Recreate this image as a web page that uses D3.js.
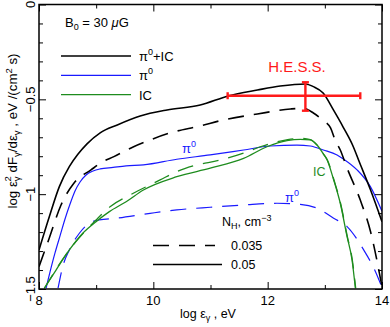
<!DOCTYPE html>
<html>
<head>
<meta charset="utf-8">
<script src="https://cdn.jsdelivr.net/npm/d3@7"></script>
<style>
  html, body { margin: 0; padding: 0; background: #fff; }
  svg { display: block; font-family: "Liberation Sans", Arial, sans-serif; }
</style>
</head>
<body>
<svg id="chart" width="390" height="327"></svg>
<script>
// log eps (eV) vs log eps^2 dF/deps
const sumSolid = [[8.0,-1.294],[8.18,-1.119],[8.356,-0.96],[8.53,-0.855],[8.68,-0.79],[8.84,-0.735],[9.07,-0.677],[9.37,-0.635],[9.77,-0.588],[10.24,-0.556],[10.82,-0.53],[11.31,-0.482],[11.82,-0.451],[12.22,-0.43],[12.66,-0.419],[12.8,-0.433],[12.97,-0.467],[13.15,-0.556],[13.32,-0.646],[13.5,-0.751],[13.59,-0.82],[13.8,-0.978],[14.0,-1.145]];
const sumDashed = [[8.0,-1.382],[8.18,-1.231],[8.385,-1.057],[8.613,-0.941],[8.91,-0.872],[9.115,-0.829],[9.31,-0.802],[9.646,-0.751],[9.944,-0.714],[10.294,-0.677],[10.82,-0.64],[11.22,-0.609],[11.82,-0.577],[12.4,-0.551],[12.62,-0.547],[12.8,-0.572],[12.96,-0.609],[13.1,-0.651],[13.18,-0.715],[13.27,-0.767],[13.39,-0.863],[13.62,-1.031],[13.8,-1.198],[14.0,-1.488]];
const piSolid = [[8.123,-1.496],[8.193,-1.41],[8.28,-1.31],[8.368,-1.22],[8.455,-1.131],[8.543,-1.052],[8.63,-0.983],[8.718,-0.936],[8.823,-0.899],[8.946,-0.878],[9.07,-0.867],[9.296,-0.859],[9.524,-0.851],[9.827,-0.846],[10.41,-0.816],[10.995,-0.793],[11.578,-0.767],[12.046,-0.746],[12.513,-0.741],[12.746,-0.746],[12.974,-0.767],[13.214,-0.793],[13.324,-0.814],[13.564,-0.872],[13.797,-0.96],[14.0,-1.09]];
const piDashed = [[8.333,-1.496],[8.415,-1.382],[8.531,-1.294],[8.706,-1.206],[8.881,-1.153],[9.056,-1.136],[9.349,-1.127],[9.944,-1.101],[10.41,-1.083],[10.995,-1.069],[11.578,-1.057],[12.163,-1.048],[12.571,-1.054],[12.863,-1.074],[13.154,-1.127],[13.389,-1.171],[13.68,-1.294],[13.855,-1.389],[14.0,-1.492]];
const icSolid = [[8.093,-1.496],[8.298,-1.4],[8.531,-1.294],[8.765,-1.206],[8.998,-1.145],[9.231,-1.092],[9.524,-1.04],[9.827,-0.978],[10.41,-0.908],[10.995,-0.863],[11.578,-0.811],[11.988,-0.75],[12.338,-0.718],[12.571,-0.711],[12.746,-0.714],[12.863,-0.741],[12.974,-0.788],[13.04,-0.82],[13.155,-0.925],[13.27,-1.048],[13.389,-1.224],[13.476,-1.347],[13.534,-1.496]];
const icDashed = [[8.093,-1.496],[8.531,-1.294],[8.998,-1.136],[9.243,-1.066],[9.594,-1.004],[10.119,-0.925],[10.41,-0.881],[10.7,-0.851],[11.17,-0.82],[11.578,-0.784],[11.87,-0.75],[12.22,-0.72],[12.571,-0.706],[12.746,-0.712],[12.863,-0.741],[12.974,-0.788],[13.045,-0.82],[13.16,-0.925],[13.275,-1.048],[13.394,-1.224],[13.481,-1.347],[13.54,-1.496]];

// H.E.S.S. point: centre, x range, y range
const hessX = [11.3, 12.66, 13.62];
const hessY = [-0.56, -0.481, -0.41];

const xMajor = [8, 10, 12, 14];
const xMinor = [9, 11, 13];
const yMajor = [-1.5, -1, -0.5, 0];
const yLabels = ['\u22121.5', '\u22121', '\u22120.5', '0'];
const densities = ['0.035', '0.05'];

const W = 390, H = 327;
const margin = { left: 39, right: 8, top: 4.5, bottom: 38 };

const svg = d3.select('#chart');
const x = d3.scaleLinear().domain([8, 14]).range([margin.left, W - margin.right]);
const y = d3.scaleLinear().domain([-1.5, 0]).range([H - margin.bottom, margin.top]);

const BLACK = '#000', BLUE = '#1a1aff', GREEN = '#1e8c1e', RED = '#ff1a1a';
const DASH = '16,10';

svg.append('clipPath').attr('id', 'clip')
  .append('rect')
  .attr('x', x(8)).attr('y', y(0))
  .attr('width', x(14) - x(8)).attr('height', y(-1.5) - y(0));

const line = d3.line().x(d => x(d[0])).y(d => y(d[1])).curve(d3.curveMonotoneX);

const curves = [
  { data: piDashed, color: BLUE, w: 1.2, dash: DASH },
  { data: piSolid, color: BLUE, w: 1.2, dash: null },
  { data: icDashed, color: GREEN, w: 1.3, dash: DASH },
  { data: icSolid, color: GREEN, w: 1.3, dash: null },
  { data: sumDashed, color: BLACK, w: 1.6, dash: DASH },
  { data: sumSolid, color: BLACK, w: 1.6, dash: null },
];

const plot = svg.append('g').attr('clip-path', 'url(#clip)');
plot.selectAll('path.curve')
  .data(curves)
  .join('path')
  .attr('class', 'curve')
  .attr('d', d => line(d.data))
  .attr('fill', 'none')
  .attr('stroke', d => d.color)
  .attr('stroke-width', d => d.w)
  .attr('stroke-dasharray', d => d.dash);

// axes with inward ticks
function styleAxis(g) {
  g.select('.domain').remove();
  g.selectAll('line').attr('stroke', '#000').attr('stroke-width', 1);
  g.selectAll('text').remove();
}
svg.append('g').attr('transform', `translate(0,${y(-1.5)})`)
  .call(d3.axisBottom(x).tickValues(xMajor).tickSizeInner(-7).tickSizeOuter(0)).call(styleAxis);
svg.append('g').attr('transform', `translate(0,${y(-1.5)})`)
  .call(d3.axisBottom(x).tickValues(xMinor).tickSizeInner(-4).tickSizeOuter(0)).call(styleAxis);
svg.append('g').attr('transform', `translate(0,${y(0)})`)
  .call(d3.axisTop(x).tickValues(xMajor).tickSizeInner(-7).tickSizeOuter(0)).call(styleAxis);
svg.append('g').attr('transform', `translate(0,${y(0)})`)
  .call(d3.axisTop(x).tickValues(xMinor).tickSizeInner(-4).tickSizeOuter(0)).call(styleAxis);

const yMinor = d3.range(-15, 1).map(v => v / 10).filter(v => !yMajor.includes(v));
svg.append('g').attr('transform', `translate(${x(8)},0)`)
  .call(d3.axisLeft(y).tickValues(yMajor).tickSizeInner(-7).tickSizeOuter(0)).call(styleAxis);
svg.append('g').attr('transform', `translate(${x(8)},0)`)
  .call(d3.axisLeft(y).tickValues(yMinor).tickSizeInner(-4).tickSizeOuter(0)).call(styleAxis);
svg.append('g').attr('transform', `translate(${x(14)},0)`)
  .call(d3.axisRight(y).tickValues(yMajor).tickSizeInner(-7).tickSizeOuter(0)).call(styleAxis);
svg.append('g').attr('transform', `translate(${x(14)},0)`)
  .call(d3.axisRight(y).tickValues(yMinor).tickSizeInner(-4).tickSizeOuter(0)).call(styleAxis);

svg.append('rect')
  .attr('x', x(8)).attr('y', y(0))
  .attr('width', x(14) - x(8)).attr('height', y(-1.5) - y(0))
  .attr('fill', 'none').attr('stroke', '#000').attr('stroke-width', 1.5);

// tick labels
svg.selectAll('text.xt')
  .data(xMajor)
  .join('text')
  .attr('class', 'xt')
  .attr('x', d => x(d)).attr('y', 305)
  .attr('text-anchor', 'middle')
  .attr('font-size', 13)
  .text(d => d);

svg.selectAll('text.yt')
  .data(yMajor)
  .join('text')
  .attr('class', 'yt')
  .attr('transform', d => `translate(35,${y(d)}) rotate(-90)`)
  .attr('text-anchor', 'middle')
  .attr('font-size', 13)
  .text((d, i) => yLabels[i]);

// axis titles
const xt = svg.append('text').attr('x', 208).attr('y', 318)
  .attr('text-anchor', 'middle').attr('font-size', 12.5);
xt.append('tspan').text('log \u03b5');
xt.append('tspan').attr('font-size', 9).attr('dy', 3).text('\u03b3');
xt.append('tspan').attr('dy', -3).text(' , eV');

const yt = svg.append('text')
  .attr('transform', `translate(17,131) rotate(-90)`)
  .attr('text-anchor', 'middle').attr('font-size', 13.3);
yt.append('tspan').text('log \u03b5');
yt.append('tspan').attr('font-size', 9.5).attr('dy', 3).text('\u03b3');
yt.append('tspan').attr('font-size', 9.5).attr('dy', -9).attr('dx', -5).text('2');
yt.append('tspan').attr('dy', 6).text(' dF');
yt.append('tspan').attr('font-size', 9.5).attr('dy', 3).text('\u03b3');
yt.append('tspan').attr('dy', -3).text('/d\u03b5');
yt.append('tspan').attr('font-size', 9.5).attr('dy', 3).text('\u03b3');
yt.append('tspan').attr('dy', -3).text(' ,  eV /(cm');
yt.append('tspan').attr('font-size', 9.5).attr('dy', -5).text('2');
yt.append('tspan').attr('dy', 5).text(' s)');

// B0 label
const b0 = svg.append('text').attr('x', 65).attr('y', 27).attr('font-size', 13);
b0.append('tspan').text('B');
b0.append('tspan').attr('font-size', 9).attr('dy', 3).text('0');
b0.append('tspan').attr('dy', -3).text('  =  30  ');
b0.append('tspan').attr('font-style', 'italic').text('\u03bc');
b0.append('tspan').text('G');

// top-left legend
const legendItems = [
  { label: '\u03c0', sup: '0', tail: '+IC', color: BLACK, w: 1.6 },
  { label: '\u03c0', sup: '0', tail: '', color: BLUE, w: 1.2 },
  { label: 'IC', sup: '', tail: '', color: GREEN, w: 1.3 },
];
const leg = svg.selectAll('g.leg')
  .data(legendItems)
  .join('g')
  .attr('class', 'leg')
  .attr('transform', (d, i) => `translate(61,${56 + i * 19.3})`);
leg.append('line')
  .attr('x1', 0).attr('x2', 70)
  .attr('stroke', d => d.color).attr('stroke-width', d => d.w);
const lt = leg.append('text').attr('x', 78).attr('y', 5).attr('font-size', 13);
lt.append('tspan').text(d => d.label);
lt.append('tspan').attr('font-size', 9).attr('dy', -6).text(d => d.sup);
lt.append('tspan').attr('dy', 6).text(d => d.tail);

// curve labels
function piLabel(px, py) {
  const t = svg.append('text').attr('x', px).attr('y', py)
    .attr('font-size', 13).attr('fill', BLUE);
  t.append('tspan').text('\u03c0');
  t.append('tspan').attr('font-size', 9).attr('dy', -6).text('0');
}
piLabel(182, 153);
piLabel(285, 202);
svg.append('text').attr('x', 313).attr('y', 176)
  .attr('font-size', 12.5).attr('fill', GREEN).text('IC');

// N_H legend
const nh = svg.append('text').attr('x', 222).attr('y', 226).attr('font-size', 12.5);
nh.append('tspan').text('N');
nh.append('tspan').attr('font-size', 9).attr('dy', 3).text('H');
nh.append('tspan').attr('dy', -3).text(', cm');
nh.append('tspan').attr('font-size', 9).attr('dy', -5).text('\u22123');

const nl = svg.selectAll('g.nl')
  .data(densities)
  .join('g')
  .attr('class', 'nl')
  .attr('transform', (d, i) => `translate(153,${245.5 + i * 19})`);
nl.append('line')
  .attr('x1', 0).attr('x2', (d, i) => i === 0 ? 62 : 69)
  .attr('stroke', '#000').attr('stroke-width', 1.4)
  .attr('stroke-dasharray', (d, i) => i === 0 ? DASH : null);
nl.append('text').attr('x', 78).attr('y', 4.5).attr('font-size', 12.5).text(d => d);

// H.E.S.S. data point
const hess = svg.append('g').attr('stroke', RED).attr('stroke-width', 2.4);
hess.append('line')
  .attr('x1', x(hessX[0])).attr('x2', x(hessX[2]))
  .attr('y1', y(hessY[1])).attr('y2', y(hessY[1]));
hess.append('line')
  .attr('x1', x(hessX[1])).attr('x2', x(hessX[1]))
  .attr('y1', y(hessY[0])).attr('y2', y(hessY[2]));
hess.selectAll('line.capx')
  .data([hessX[0], hessX[2]])
  .join('line')
  .attr('class', 'capx')
  .attr('x1', d => x(d)).attr('x2', d => x(d))
  .attr('y1', y(hessY[1]) - 3.5).attr('y2', y(hessY[1]) + 3.5);
hess.selectAll('line.capy')
  .data([hessY[0], hessY[2]])
  .join('line')
  .attr('class', 'capy')
  .attr('x1', x(hessX[1]) - 3.5).attr('x2', x(hessX[1]) + 3.5)
  .attr('y1', d => y(d)).attr('y2', d => y(d));
svg.append('text').attr('x', 297).attr('y', 72)
  .attr('text-anchor', 'middle').attr('font-size', 15)
  .attr('fill', RED).text('H.E.S.S.');
</script>
</body>
</html>
